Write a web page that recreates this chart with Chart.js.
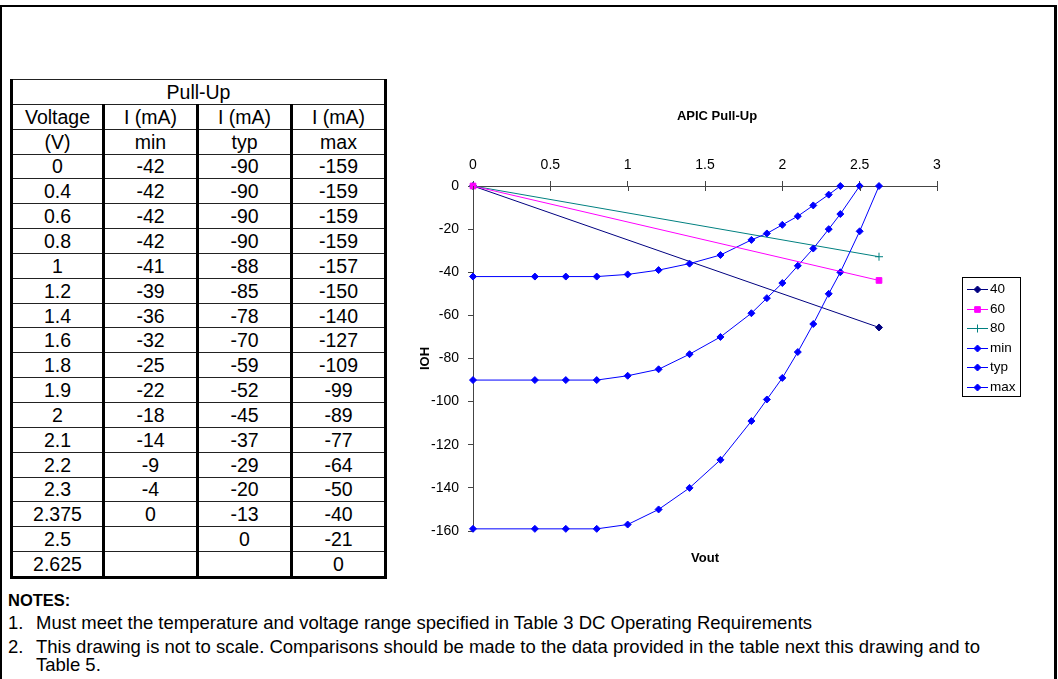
<!DOCTYPE html>
<html>
<head>
<meta charset="utf-8">
<script src="https://cdn.jsdelivr.net/npm/chart.js@4/dist/chart.umd.min.js"></script>
<style>
  html, body { margin: 0; padding: 0; background: #fff; }
  body { width: 1058px; height: 679px; position: relative; overflow: hidden;
         font-family: 'Liberation Sans', Arial, sans-serif; color: #000; }
  #frame { position: absolute; left: 0; top: 5px; width: 1052px; height: 700px;
           border-top: 2px solid #000; border-left: 2px solid #000; border-right: 3px solid #000; }
  #pullup { position: absolute; left: 10px; top: 79px; border-collapse: collapse;
            font-size: 19.5px; table-layout: fixed; }
  #pullup td { text-align: center; padding: 0; height: 23.85px; line-height: 20px;
               border-top: 1px solid #222; border-bottom: 1px solid #222;
               border-left: 3px solid #000; border-right: 3px solid #000; }
  #pullup tr:first-child td { border-top: 3px solid #000; }
  #pullup tr:last-child td { border-bottom: 3px solid #000; }
  #chartBox { position: absolute; left: 400px; top: 95px; width: 634px; height: 485px; }
  .note { position: absolute; font-size: 18.5px; line-height: 21px; white-space: nowrap; }
</style>
</head>
<body>
<div id="frame"></div>
<table id="pullup"></table>
<div id="chartBox"><canvas id="c" width="634" height="485"></canvas></div>

<div class="note" style="left:8px; top:590px; font-weight:bold; font-size:16.5px;">NOTES:</div>
<div class="note" style="left:8px; top:612px;">1.</div>
<div class="note" style="left:36px; top:612px;">Must meet the temperature and voltage range specified in Table 3 DC Operating Requirements</div>
<div class="note" style="left:8px; top:636px;">2.</div>
<div class="note" style="left:36px; top:636px;">This drawing is not to scale. Comparisons should be made to the data provided in the table next this drawing and to</div>
<div class="note" style="left:36px; top:654px;">Table 5.</div>

<script>
// Pull-up characteristics: output voltage (V) against source current (mA)
const voltLabels = ['0', '0.4', '0.6', '0.8', '1', '1.2', '1.4', '1.6', '1.8', '1.9',
                    '2', '2.1', '2.2', '2.3', '2.375', '2.5', '2.625'];
const voltages = [0, 0.4, 0.6, 0.8, 1, 1.2, 1.4, 1.6, 1.8, 1.9, 2, 2.1, 2.2, 2.3, 2.375, 2.5, 2.625];
const iMin = [-42, -42, -42, -42, -41, -39, -36, -32, -25, -22, -18, -14, -9, -4, 0, null, null];
const iTyp = [-90, -90, -90, -90, -88, -85, -78, -70, -59, -52, -45, -37, -29, -20, -13, 0, null];
const iMax = [-159, -159, -159, -159, -157, -150, -140, -127, -109, -99, -89, -77, -64, -50, -40, -21, 0];

// Resistive load lines (40, 60 and 80 ohm)
const loadVout = [0, 2.625];
const load40 = [0, -65.6];
const load60 = [0, -43.8];
const load80 = [0, -32.8];

// Axis ranges
const xTicks = { min: 0, max: 3, step: 0.5 };
const yTicks = { min: -160, max: 0, step: 20 };

// ---- table ----
const headerRows = [['Voltage', 'I (mA)', 'I (mA)', 'I (mA)'], ['(V)', 'min', 'typ', 'max']];
const colWidths = [92, 94, 94, 94];
const table = document.getElementById('pullup');
const cg = document.createElement('colgroup');
colWidths.forEach(w => { const c = document.createElement('col'); c.style.width = w + 'px'; cg.appendChild(c); });
table.appendChild(cg);
function addRow(cells, span) {
  const tr = document.createElement('tr');
  cells.forEach(t => {
    const td = document.createElement('td');
    td.textContent = t;
    if (span) td.colSpan = span;
    tr.appendChild(td);
  });
  table.appendChild(tr);
}
addRow(['Pull-Up'], 4);
headerRows.forEach(r => addRow(r));
const fmt = v => (v === null ? '' : String(v));
voltLabels.forEach((v, i) => addRow([v, fmt(iMin[i]), fmt(iTyp[i]), fmt(iMax[i])]));

// ---- chart ----
const pts = (xs, ys) => xs.map((x, i) => ({ x, y: ys[i] })).filter(p => p.y !== null);
const FONT = "'Liberation Sans', Arial, sans-serif";
Chart.defaults.font.family = FONT;
Chart.defaults.color = '#000';

const datasets = [
  { label: '40', data: pts(loadVout, load40), borderColor: '#000080', backgroundColor: '#000080',
    pointStyle: 'rectRot', pointRadius: 3.5, order: 3 },
  { label: '60', data: pts(loadVout, load60), borderColor: '#ff00ff', backgroundColor: '#ff00ff',
    pointStyle: 'rect', pointRadius: 4, order: 0 },
  { label: '80', data: pts(loadVout, load80), borderColor: '#008080', backgroundColor: '#008080',
    pointStyle: 'cross', pointRadius: 4, order: 2 },
  { label: 'min', data: pts(voltages, iMin), borderColor: '#0000ff', backgroundColor: '#0000ff',
    pointStyle: 'rectRot', pointRadius: 3.5, order: 1 },
  { label: 'typ', data: pts(voltages, iTyp), borderColor: '#0000ff', backgroundColor: '#0000ff',
    pointStyle: 'rectRot', pointRadius: 3.5, order: 1 },
  { label: 'max', data: pts(voltages, iMax), borderColor: '#0000ff', backgroundColor: '#0000ff',
    pointStyle: 'rectRot', pointRadius: 3.5, order: 1 }
].map(d => Object.assign({ borderWidth: 1, pointBorderWidth: 1, pointHoverRadius: 4,
                           tension: 0, clip: false, showLine: true }, d));

// tick marks that cross the top axis line
const crossTicks = {
  id: 'crossTicks',
  afterDraw(chart) {
    const sx = chart.scales.x, ctx = chart.ctx;
    ctx.save();
    ctx.strokeStyle = '#444';
    ctx.lineWidth = 1;
    sx.ticks.forEach(t => {
      const px = Math.round(sx.getPixelForValue(t.value)) + 0.5;
      ctx.beginPath();
      ctx.moveTo(px, sx.bottom);
      ctx.lineTo(px, sx.bottom + 5);
      ctx.stroke();
    });
    ctx.restore();
  }
};

// boxed legend, each entry shows a short line with the series marker
const boxLegend = {
  id: 'boxLegend',
  afterDraw(chart, args, opts) {
    const ctx = chart.ctx;
    const { left, top, width, rowH, firstY } = opts;
    ctx.save();
    ctx.strokeStyle = '#000';
    ctx.lineWidth = 1;
    ctx.strokeRect(left + 0.5, top + 0.5, width, opts.height);
    ctx.font = '13.5px ' + FONT;
    ctx.textBaseline = 'middle';
    ctx.textAlign = 'left';
    chart.data.datasets.forEach((ds, i) => {
      const y = Math.round(top + firstY + i * rowH) + 0.5;
      const x0 = left + 5, x1 = left + 26, xm = (x0 + x1) / 2;
      ctx.strokeStyle = ds.borderColor;
      ctx.lineWidth = 1;
      ctx.beginPath(); ctx.moveTo(x0, y); ctx.lineTo(x1, y); ctx.stroke();
      ctx.fillStyle = ds.backgroundColor;
      Chart.helpers.drawPoint(ctx, { pointStyle: ds.pointStyle, radius: ds.pointRadius,
                                     borderWidth: 1, rotation: 0 }, xm, y);
      ctx.fillStyle = '#000';
      ctx.fillText(ds.label, x1 + 2, y);
    });
    ctx.restore();
  }
};

new Chart(document.getElementById('c'), {
  type: 'scatter',
  data: { datasets },
  plugins: [crossTicks, boxLegend],
  options: {
    responsive: false,
    animation: false,
    devicePixelRatio: 1,
    layout: { padding: 0 },
    plugins: {
      legend: { display: false },
      tooltip: { enabled: false },
      title: { display: true, text: 'APIC Pull-Up', color: '#000',
               font: { size: 13, weight: 'bold' }, padding: { top: 13.2, bottom: 0 } },
      boxLegend: { left: 562, top: 182, width: 58, height: 119, firstY: 12, rowH: 19.6 }
    },
    scales: {
      x: {
        type: 'linear', position: 'top',
        min: xTicks.min, max: xTicks.max,
        ticks: { stepSize: xTicks.step, padding: 7, font: { size: 14 }, color: '#000', maxRotation: 0,
                 callback: v => String(v) },
        grid: { drawOnChartArea: false, drawTicks: true, tickLength: 5, color: '#444' },
        border: { display: true, color: '#444', width: 1 },
        afterFit: s => { s.height = 62.2; }
      },
      xTitle: {
        type: 'linear', position: 'bottom', min: xTicks.min, max: xTicks.max,
        ticks: { display: false },
        grid: { display: false, drawTicks: false },
        border: { display: false },
        title: { display: true, text: 'Vout', color: '#000', font: { size: 13, weight: 'bold' },
                 padding: { top: 0, bottom: 14.2 } },
        afterFit: s => { s.height = 49; }
      },
      legendSpace: {
        type: 'linear', position: 'right', min: yTicks.min, max: yTicks.max,
        ticks: { display: false },
        grid: { display: false, drawTicks: false },
        border: { display: false },
        afterFit: s => { s.width = 97; }
      },
      y: {
        type: 'linear', position: 'left',
        min: yTicks.min, max: yTicks.max,
        ticks: { stepSize: yTicks.step, padding: 9, font: { size: 14 }, color: '#000' },
        grid: { drawOnChartArea: false, drawTicks: true, tickLength: 5, color: '#444' },
        border: { display: true, color: '#444', width: 1 },
        title: { display: true, text: 'IOH', color: '#000', font: { size: 13, weight: 'bold' },
                 padding: { top: 17.2, bottom: 0 } },
        afterFit: s => { s.width = 73; }
      }
    }
  }
});
</script>
</body>
</html>
